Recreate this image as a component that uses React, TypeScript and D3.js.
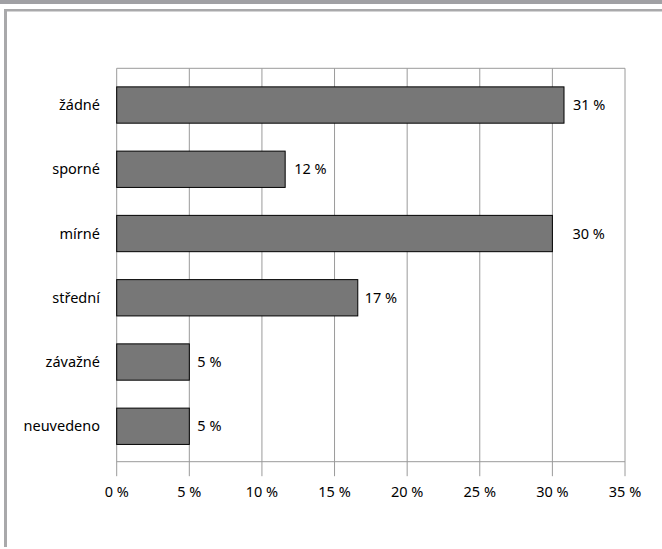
import React from "react";
import * as d3 from "d3";

const categories = ["žádné", "sporné", "mírné", "střední", "závažné", "neuvedeno"];
const values = [30.8, 11.6, 30.0, 16.6, 5.0, 5.0];
const valueLabels = ["31 %", "12 %", "30 %", "17 %", "5 %", "5 %"];
const tickValues = [0, 5, 10, 15, 20, 25, 30, 35];
const labelDx = [9, 9, 20, 7, 8, 8];

const W = 662;
const H = 549;
const FONT = "'Noto Sans', sans-serif";
const FS = 14.5;

export default function App() {
  const left = 116.7;
  const right = 625;
  const top = 68.3;
  const bottom = 461.7;

  const x = d3.scaleLinear().domain([0, 35]).range([left, right]);
  const y = d3
    .scaleBand<string>()
    .domain(categories)
    .range([72.9, 458.4])
    .paddingInner(0.435)
    .paddingOuter(0.2175);

  const grid = "#9a9a9a";

  return (
    <svg
      width={W}
      height={H}
      style={{ position: "absolute", left: 0, top: 0, background: "#fff" }}
      fontFamily={FONT}
    >
      {/* frame */}
      <rect x={0} y={0} width={W} height={4} fill="#a0a0a4" />
      <rect x={4} y={9} width={W - 4} height={2.5} fill="#a9a9ab" />
      <rect x={4} y={9} width={3} height={538} fill="#a9a9ab" />

      {/* vertical gridlines */}
      {tickValues.map((t) => (
        <line
          key={"g" + t}
          x1={x(t)}
          x2={x(t)}
          y1={top}
          y2={bottom + 14.5}
          stroke={grid}
          strokeWidth={1}
        />
      ))}
      {/* plot border top */}
      <line x1={left} x2={right} y1={top} y2={top} stroke={grid} />
      {/* x axis */}
      <line x1={left} x2={right} y1={bottom} y2={bottom} stroke={grid} />

      {/* bars */}
      {categories.map((c, i) => (
        <g key={c}>
          <rect
            x={x(0)}
            y={y(c)}
            width={x(values[i]) - x(0)}
            height={y.bandwidth()}
            fill="#777777"
            stroke="#000"
            strokeWidth={1}
          />
          <text
            x={x(values[i]) + labelDx[i]}
            y={(y(c) as number) + y.bandwidth() / 2}
            dy="0.35em"
            fontSize={FS}
            fill="#000"
          >
            {valueLabels[i]}
          </text>
          <text
            x={100}
            y={(y(c) as number) + y.bandwidth() / 2}
            dy="0.35em"
            fontSize={FS}
            textAnchor="end"
            fill="#000"
          >
            {c}
          </text>
        </g>
      ))}

      {/* tick labels */}
      {tickValues.map((t) => (
        <text
          key={"t" + t}
          x={x(t)}
          y={497}
          fontSize={FS}
          textAnchor="middle"
          fill="#000"
        >
          {t + " %"}
        </text>
      ))}
    </svg>
  );
}
